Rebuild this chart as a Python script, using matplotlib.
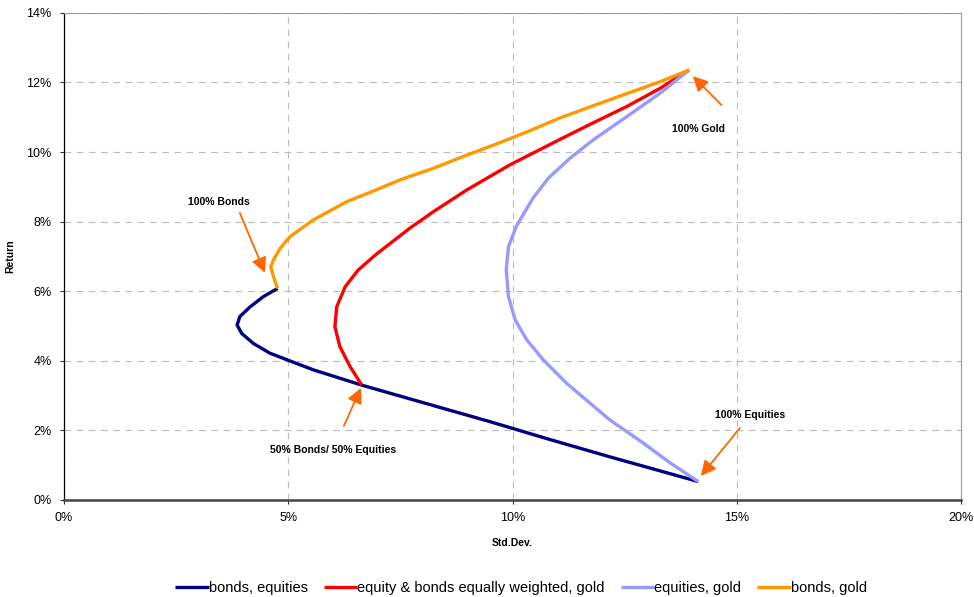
import matplotlib
matplotlib.use("Agg")
import matplotlib.pyplot as plt
from matplotlib.ticker import FuncFormatter

plt.rcParams['font.family'] = ['Liberation Sans', 'DejaVu Sans']

# bonds, equities (std dev %, return %)
be_x = [4.76, 4.44, 4.15, 3.92, 3.86, 3.96, 4.22, 4.59, 4.99, 5.56, 6.15, 6.64, 8.00, 9.50, 10.80, 12.17, 14.14]
be_y = [6.08, 5.84, 5.55, 5.27, 5.03, 4.79, 4.50, 4.22, 4.02, 3.74, 3.50, 3.30, 2.80, 2.25, 1.75, 1.24, 0.53]

# equity & bonds equally weighted, gold
eg_x = [6.64, 6.38, 6.15, 6.04, 6.08, 6.27, 6.56, 6.95, 7.71, 8.23, 8.98, 9.94, 10.55, 11.10, 11.80, 12.55, 13.29, 13.94]
eg_y = [3.30, 3.83, 4.41, 4.98, 5.55, 6.13, 6.61, 7.05, 7.81, 8.28, 8.91, 9.63, 10.03, 10.39, 10.84, 11.31, 11.83, 12.36]

# equities, gold
qg_x = [14.14, 13.50, 12.90, 12.17, 11.73, 11.21, 10.69, 10.32, 10.06, 9.91, 9.86, 9.91, 10.09, 10.46, 10.80, 11.28, 11.80, 12.55, 13.29, 13.94]
qg_y = [0.53, 1.08, 1.65, 2.30, 2.78, 3.35, 4.02, 4.60, 5.17, 5.84, 6.61, 7.28, 7.88, 8.68, 9.25, 9.82, 10.35, 11.02, 11.69, 12.36]

# bonds, gold
bg_x = [4.76, 4.67, 4.61, 4.67, 4.82, 5.04, 5.56, 6.30, 7.05, 7.49, 8.23, 8.98, 9.72, 10.40, 11.06, 11.80, 12.55, 13.29, 13.94]
bg_y = [6.08, 6.42, 6.70, 6.90, 7.23, 7.57, 8.05, 8.57, 8.96, 9.20, 9.53, 9.91, 10.27, 10.62, 10.98, 11.33, 11.68, 12.02, 12.36]

series_labels = ["bonds, equities", "equity & bonds equally weighted, gold", "equities, gold", "bonds, gold"]
series_colors = ["#000080", "#FF0000", "#9999FF", "#FF9900"]

x_ticks = [0, 5, 10, 15, 20]
y_ticks = [0, 2, 4, 6, 8, 10, 12, 14]

annotations = [
    ("100% Bonds", (4.48, 6.53), (3.92, 8.25), (3.45, 8.55)),
    ("100% Gold", (14.02, 12.18), (14.66, 11.35), (14.15, 10.65)),
    ("100% Equities", (14.2, 0.69), (15.07, 2.07), (15.3, 2.45)),
    ("50% Bonds/ 50% Equities", (6.62, 3.22), (6.24, 2.13), (6.0, 1.45)),
]

fig = plt.figure(figsize=(9.74, 5.97), dpi=100)
ax = fig.add_axes([0.0657, 0.1625, 0.921, 0.816])

for xs, ys, lab, col in zip([be_x, eg_x, qg_x, bg_x], [be_y, eg_y, qg_y, bg_y], series_labels, series_colors):
    ax.plot(xs, ys, color=col, lw=2.4, label=lab, solid_capstyle='butt', solid_joinstyle='round')

for text, head, tail, tpos in annotations:
    ax.annotate("", xy=head, xytext=tail,
                arrowprops=dict(arrowstyle="-|>,head_length=0.9,head_width=0.45", color="#FF6600", lw=1.3, shrinkA=0, shrinkB=0))
    ax.text(tpos[0], tpos[1], text, fontsize=7.5, fontweight='bold', ha='center', va='center')

ax.set_xlim(0, 20)
ax.set_ylim(0, 14)
ax.set_xticks(x_ticks)
ax.set_yticks(y_ticks)
ax.xaxis.set_major_formatter(FuncFormatter(lambda v, p: f"{v:.0f}%"))
ax.yaxis.set_major_formatter(FuncFormatter(lambda v, p: f"{v:.0f}%"))
ax.tick_params(labelsize=9, length=3, color='#333333', pad=6)
ax.grid(True, color='#BBBBBB', linestyle=(0, (6, 5)), lw=0.8)
ax.set_axisbelow(True)

for s in ['top', 'right']:
    ax.spines[s].set_color('#999999')
    ax.spines[s].set_linewidth(0.8)
ax.spines['left'].set_color('black')
ax.spines['left'].set_linewidth(0.9)
ax.spines['bottom'].set_color('#444444')
ax.spines['bottom'].set_linewidth(1.8)

ax.set_xlabel("Std.Dev.", fontsize=7.5, fontweight='bold', labelpad=10)
ax.set_ylabel("Return", fontsize=7.5, fontweight='bold', labelpad=8)

fig.legend(loc='center', bbox_to_anchor=(0.535, 0.015), ncol=4, frameon=False, fontsize=10.5,
           handlelength=2.3, handletextpad=0.0, columnspacing=1.1)

fig.savefig("out.png", dpi=100)
